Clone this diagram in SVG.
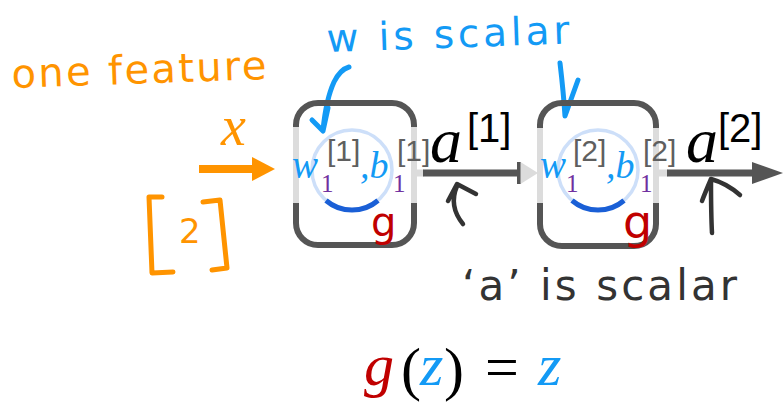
<svg xmlns="http://www.w3.org/2000/svg" width="783" height="402" viewBox="0 0 783 402">
<style>
.box{fill:none;stroke:#555;stroke-width:6}
.side{stroke:#dcdcdc;stroke-width:6}
.ring{fill:none;stroke:#cddff9;stroke-width:3.5}
.arc{fill:none;stroke:#1a5fd6;stroke-width:5}
.m{font-family:"Liberation Serif",serif;font-style:italic}
.up{font-family:"Liberation Sans",sans-serif}
.sub{font-family:"Liberation Serif",serif;font-size:25px;fill:#7030a0}
.blue{fill:#139af5}
.gray{fill:#5f5f5f}
.hand{font-family:"DejaVu Sans",sans-serif}
.ink{fill:none;stroke-linecap:round;stroke-linejoin:round}
</style>

<g id="annotations">
  <text class="hand" x="12" y="88" font-size="40" fill="#ff9400" textLength="255" transform="rotate(-2 12 88)">one feature</text>
  <text class="m" x="221" y="145" font-size="56" fill="#ff9400">x</text>
  <path class="ink" stroke="#ff9400" stroke-width="5" d="M162,197 L149,197 L152,273 L173,272 M203,202 L220,200 L227,268 L212,270"/>
  <text class="hand" x="179" y="243" font-size="34" fill="#ff9400">2</text>
  <text class="hand" x="327" y="52" font-size="39" fill="#139af5" textLength="243" transform="rotate(-2 327 52)">w is scalar</text>
  <path class="ink" stroke="#139af5" stroke-width="5" d="M349,67 C342,69 338,74 334,82 C328,95 325,110 323,130 M312,120 L323,131 L328,108"/>
  <path class="ink" stroke="#139af5" stroke-width="5" d="M560,63 C562,80 564,100 565,116 L578,80"/>
  <path class="ink" stroke="#333" stroke-width="4.5" d="M448,201 L457,184 L476,194 M457,186 C451,200 454,213 463,224"/>
  <path class="ink" stroke="#333" stroke-width="4.5" d="M712,233 C711,215 711,198 711,179 M702,201 C705,193 708,186 711,179 C722,182 732,188 740,195"/>
  <text class="hand" x="462" y="300" font-size="42" fill="#333" textLength="275">‘a’ is scalar</text>
</g>

<g id="connectors">
  <line x1="199" y1="169" x2="254" y2="169" stroke="#ff9400" stroke-width="8"/>
  <polygon points="252,157 275,169 252,181" fill="#ff9400"/>
  <rect x="416" y="169.5" width="8" height="7" fill="#dcdcdc"/>
  <line x1="423" y1="173" x2="519" y2="173" stroke="#555" stroke-width="7"/>
  <rect x="517" y="162" width="4" height="22" fill="#555"/>
  <polygon points="520.5,162 538,173 520.5,184" fill="#dcdcdc"/>
  <rect x="659" y="169.5" width="9" height="7" fill="#dcdcdc"/>
  <line x1="667" y1="173" x2="755" y2="173" stroke="#555" stroke-width="7"/>
  <polygon points="752,162 783,173 752,184" fill="#555"/>
</g>

<g id="node1">
  <rect class="box" x="296" y="103" width="118" height="142" rx="22"/>
  <line class="side" x1="296" y1="127" x2="296" y2="203"/>
  <line class="side" x1="414" y1="127" x2="414" y2="203"/>
  <circle class="ring" cx="352" cy="170" r="40"/>
  <path class="arc" d="M326,200.5 A40,40 0 0 0 378,200.5"/>
  <text class="m blue" x="292" y="178" font-size="39">w</text>
  <text class="sub" x="321" y="192">1</text>
  <text class="up gray" x="327" y="161" font-size="30">[1]</text>
  <text class="m blue" x="360" y="178" font-size="38">,b</text>
  <text class="sub" x="393" y="192">1</text>
  <text class="up gray" x="397" y="161" font-size="30">[1]</text>
  <text class="hand" x="371" y="236" font-size="40" fill="#c00000">g</text>
  <text class="m" x="430" y="162" font-size="64" fill="#000">a</text>
  <text class="up" x="467" y="141.5" font-size="40" fill="#000">[1]</text>
</g>

<g id="node2">
  <rect class="box" x="540" y="103" width="116" height="143" rx="22"/>
  <line class="side" x1="540" y1="128" x2="540" y2="203"/>
  <line class="side" x1="656" y1="128" x2="656" y2="203"/>
  <circle class="ring" cx="598" cy="170" r="40"/>
  <path class="arc" d="M572,200.5 A40,40 0 0 0 624,200.5"/>
  <text class="m blue" x="540" y="178" font-size="39">w</text>
  <text class="sub" x="566" y="192">1</text>
  <text class="up gray" x="573" y="161" font-size="30">[2]</text>
  <text class="m blue" x="606" y="178" font-size="38">,b</text>
  <text class="sub" x="640" y="192">1</text>
  <text class="up gray" x="643" y="161" font-size="30">[2]</text>
  <text class="hand" x="623" y="238" font-size="46" fill="#c00000">g</text>
  <text class="m" x="686" y="162" font-size="64" fill="#000">a</text>
  <text class="up" x="718" y="141.5" font-size="40" fill="#000">[2]</text>
</g>

<g id="formula">
  <text class="m" x="364" y="385" font-size="60" fill="#c00000">g</text>
  <text x="401" y="389" font-size="60" font-family="Liberation Serif,serif" fill="#000">(</text>
  <text class="m blue" x="420" y="385" font-size="60">z</text>
  <text x="444" y="389" font-size="60" font-family="Liberation Serif,serif" fill="#000">)</text>
  <text x="485" y="387" font-size="60" font-family="Liberation Serif,serif" fill="#000">=</text>
  <text class="m blue" x="538" y="385" font-size="60">z</text>
</g>
</svg>
